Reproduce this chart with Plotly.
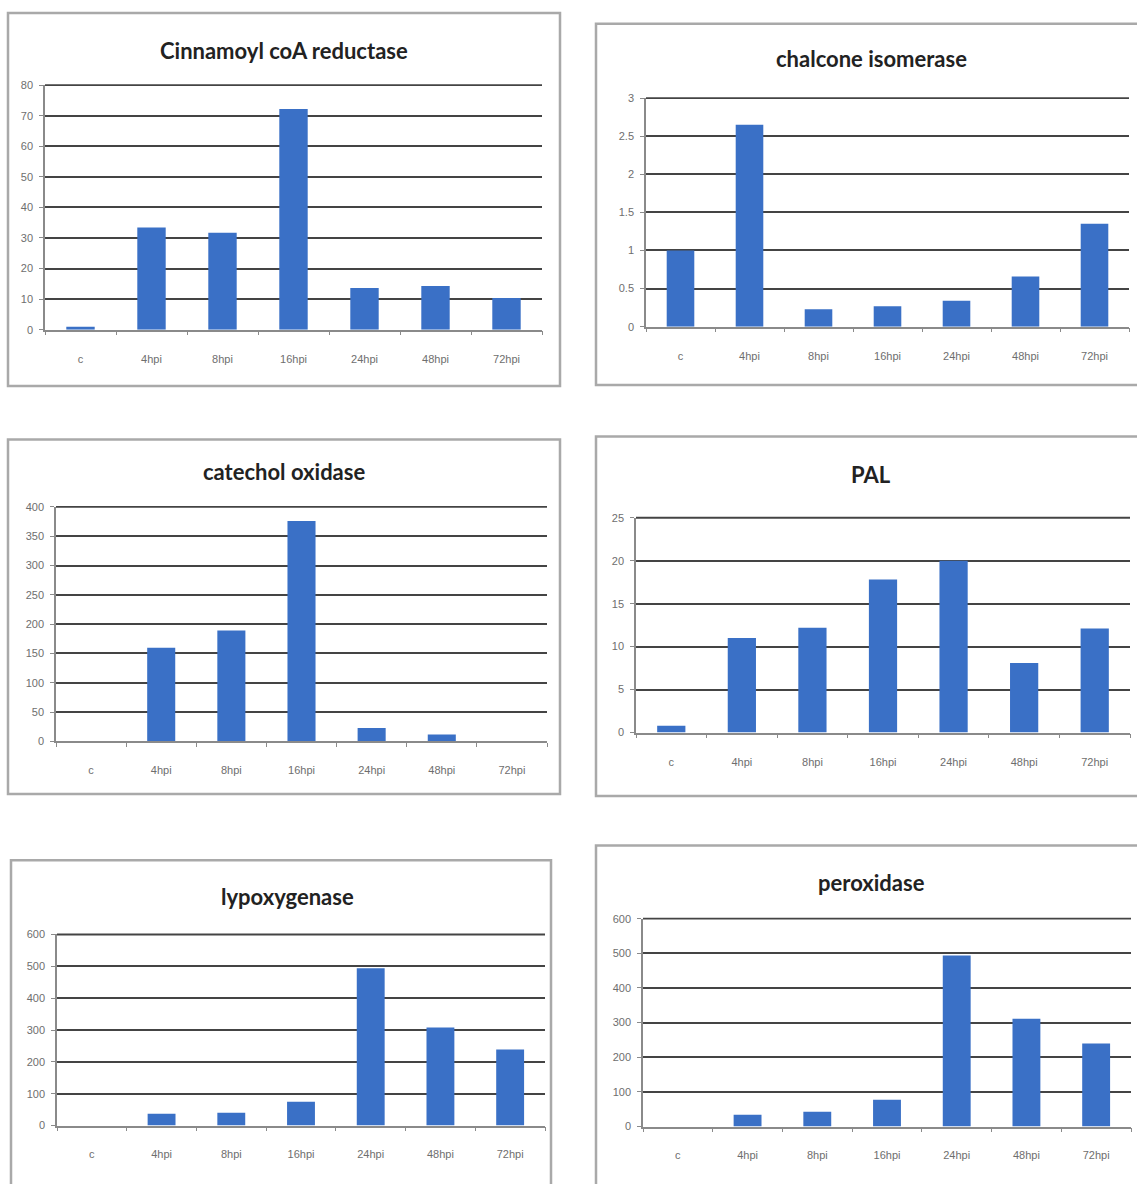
import plotly.graph_objects as go

W, H = 1137, 1184

categories = ["c", "4hpi", "8hpi", "16hpi", "24hpi", "48hpi", "72hpi"]

cinnamoyl_coa_reductase = [1.0, 33.4, 31.7, 72.2, 13.6, 14.3, 10.4]
chalcone_isomerase = [1.0, 2.65, 0.23, 0.27, 0.34, 0.66, 1.35]
catechol_oxidase = [0, 160, 189, 376, 23, 12, 0]
pal = [0.8, 11.0, 12.2, 17.8, 20.0, 8.1, 12.1]
lypoxygenase = [0, 37, 40, 75, 494, 308, 239]
peroxidase = [0, 34, 43, 77, 494, 311, 240]

titles = ["Cinnamoyl coA reductase", "chalcone isomerase", "catechol oxidase",
          "PAL", "lypoxygenase", "peroxidase"]
series = [cinnamoyl_coa_reductase, chalcone_isomerase, catechol_oxidase,
          pal, lypoxygenase, peroxidase]
y_max = [80, 3, 400, 25, 600, 600]
y_step = [10, 0.5, 50, 5, 100, 100]

# pixel layout of each panel: plot area (x0, x1, ytop, ybottom), frame box, title position
plot_px = [
    (45, 542, 80, 327),
    (646, 1129, 93, 324),
    (56, 547, 506, 743),
    (636, 1130, 517, 734),
    (57, 545, 938, 1131),
    (643, 1131, 922, 1132),
]
box_px = [
    (8, 7, 560, 384),
    (596, 18, 1150, 383),
    (8, 438, 560, 796),
    (596, 435, 1150, 798),
    (11, 863, 551, 1200),
    (596, 848, 1150, 1200),
]
title_px = [(284, 45), (871, 53), (284, 470), (871, 473), (287, 900), (871, 885)]

BAR = "#3a70c6"
GRID = "#444444"
GRID_W = 1.8
TICK_FONT = dict(family="Liberation Sans", size=11, color="#6e6e6e")


def px_x(v):
    return v / W


def px_y(v):
    return 1 - v / H


fig = go.Figure()
shapes = []
annotations = []

for i in range(6):
    n = i + 1
    xa = "x" if n == 1 else f"x{n}"
    ya = "y" if n == 1 else f"y{n}"
    fig.add_trace(go.Bar(
        x=categories, y=series[i], xaxis=xa, yaxis=ya,
        marker=dict(color=BAR, line=dict(width=0)),
        showlegend=False, hoverinfo="x+y",
    ))
    x0, x1, yt, yb = plot_px[i]
    xkey = "xaxis" if n == 1 else f"xaxis{n}"
    ykey = "yaxis" if n == 1 else f"yaxis{n}"
    fig.layout[xkey] = dict(
        domain=[px_x(x0), px_x(x1)], anchor=ya,
        type="category", range=[-0.5, 6.5],
        showgrid=False, showline=True, linecolor="#8a8a8a", linewidth=1.5,
        ticks="outside", tickson="boundaries", ticklen=4, tickcolor="#8a8a8a",
        tickfont=TICK_FONT, ticklabelstandoff=18, fixedrange=True,
    )
    fig.layout[ykey] = dict(
        domain=[px_y(yb), px_y(yt)], anchor=xa,
        range=[0, y_max[i]], dtick=y_step[i], tick0=0,
        showgrid=True, gridcolor=GRID, gridwidth=GRID_W,
        showline=True, linecolor="#8a8a8a", linewidth=1.5,
        ticks="outside", ticklen=4, tickcolor="#8a8a8a",
        tickfont=TICK_FONT, ticklabelstandoff=4, zeroline=False, fixedrange=True,
    )
    # gridline along the top of the value axis (the range maximum)
    shapes.append(dict(
        type="line", xref=f"{xa} domain", yref=f"{ya} domain",
        x0=0, x1=1, y0=1, y1=1,
        line=dict(color=GRID, width=GRID_W), layer="below",
    ))
    bx0, by0, bx1, by1 = box_px[i]
    shapes.append(dict(
        type="rect", xref="paper", yref="paper",
        x0=px_x(bx0), x1=px_x(bx1), y0=px_y(by1), y1=px_y(by0),
        line=dict(color="#a9a9a9", width=2.5), fillcolor="rgba(0,0,0,0)",
        layer="below",
    ))
    tx, ty = title_px[i]
    annotations.append(dict(
        text=f"<b>{titles[i]}</b>", xref="paper", yref="paper",
        x=px_x(tx), y=px_y(ty), xanchor="center", yanchor="middle",
        showarrow=False,
        font=dict(family="Lato", size=22, color="#222222"),
    ))

fig.update_layout(
    width=W, height=H,
    margin=dict(l=0, r=0, t=0, b=0),
    paper_bgcolor="white", plot_bgcolor="white",
    bargap=0.6,
    shapes=shapes, annotations=annotations,
)

fig.write_html("out.html")
